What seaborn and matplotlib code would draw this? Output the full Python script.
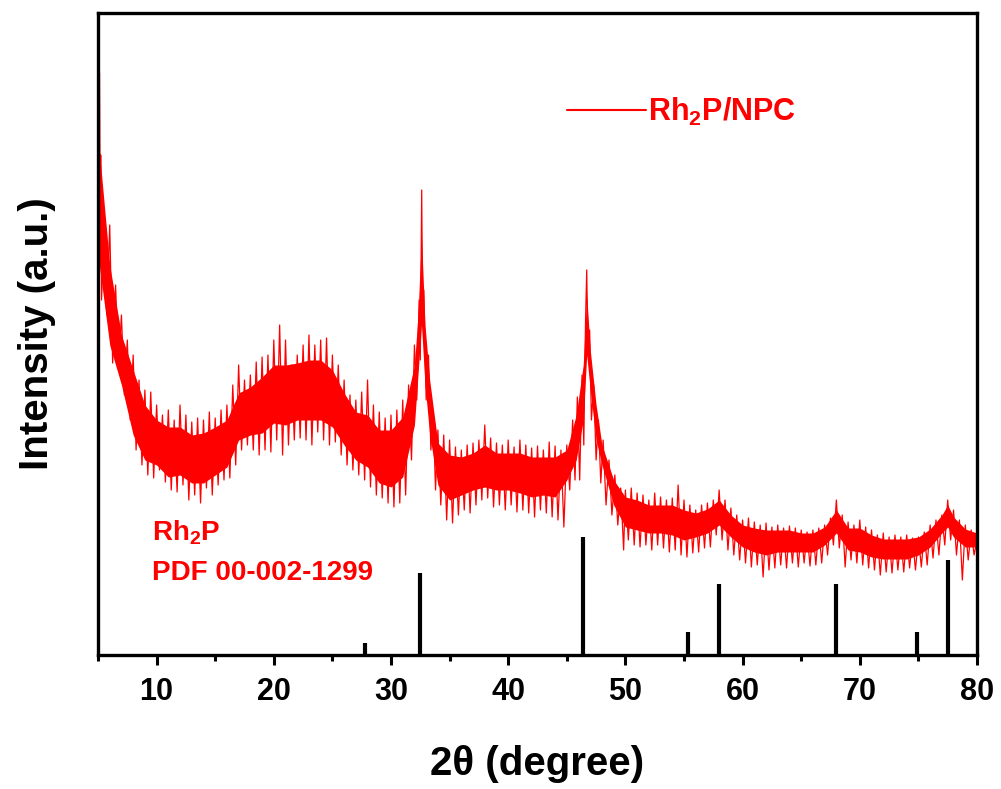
import matplotlib
matplotlib.use("Agg")
import matplotlib.pyplot as plt
import seaborn as sns
import numpy as np
import pandas as pd

# ---- data: XRD trace (2theta in degree, intensity in arbitrary units) ----
# spike tops / bottoms of the noisy trace
two_theta = [
    5.13, 5.19, 5.23, 5.3, 5.5, 5.75, 6.0, 6.25, 6.5, 6.75,
    7.0, 7.25, 7.5, 7.75, 8.0, 8.25, 8.5, 8.75, 9.0, 9.25,
    9.5, 9.75, 10.0, 10.25, 10.5, 10.75, 11.0, 11.25, 11.5, 11.75,
    12.0, 12.25, 12.5, 12.75, 13.0, 13.25, 13.5, 13.75, 14.0, 14.25,
    14.5, 14.75, 15.0, 15.25, 15.5, 15.75, 16.0, 16.25, 16.5, 16.75,
    17.0, 17.25, 17.5, 17.75, 18.0, 18.25, 18.5, 18.75, 19.0, 19.25,
    19.5, 19.75, 20.0, 20.25, 20.5, 20.75, 21.0, 21.25, 21.5, 21.75,
    22.0, 22.25, 22.5, 22.75, 23.0, 23.25, 23.5, 23.75, 24.0, 24.25,
    24.5, 24.75, 25.0, 25.25, 25.5, 25.75, 26.0, 26.25, 26.5, 26.75,
    27.0, 27.25, 27.5, 27.75, 28.0, 28.25, 28.5, 28.75, 29.0, 29.25,
    29.5, 29.75, 30.0, 30.25, 30.5, 30.75, 31.0, 31.25, 31.5, 31.75,
    32.0, 32.2, 32.4, 32.5, 32.62, 32.7, 32.8, 33.0, 33.2, 33.4,
    33.6, 33.8, 34.0, 34.25, 34.5, 34.75, 35.0, 35.25, 35.5, 35.75,
    36.0, 36.25, 36.5, 36.75, 37.0, 37.25, 37.5, 37.75, 38.0, 38.25,
    38.5, 38.75, 39.0, 39.25, 39.5, 39.75, 40.0, 40.25, 40.5, 40.75,
    41.0, 41.25, 41.5, 41.75, 42.0, 42.25, 42.5, 42.75, 43.0, 43.25,
    43.5, 43.75, 44.0, 44.25, 44.5, 44.75, 45.0, 45.25, 45.5, 45.7,
    45.9, 46.1, 46.3, 46.45, 46.6, 46.7, 46.8, 46.95, 47.1, 47.3,
    47.5, 47.7, 47.9, 48.1, 48.35, 48.6, 48.85, 49.1, 49.35, 49.6,
    49.85, 50.0, 50.25, 50.5, 50.75, 51.0, 51.25, 51.5, 51.75, 52.0,
    52.25, 52.5, 52.75, 53.0, 53.25, 53.5, 53.75, 54.0, 54.25, 54.5,
    54.75, 55.0, 55.25, 55.5, 55.75, 56.0, 56.25, 56.5, 56.75, 57.0,
    57.25, 57.5, 57.75, 58.0, 58.25, 58.5, 58.75, 59.0, 59.25, 59.5,
    59.75, 60.0, 60.25, 60.5, 60.75, 61.0, 61.25, 61.5, 61.75, 62.0,
    62.25, 62.5, 62.75, 63.0, 63.25, 63.5, 63.75, 64.0, 64.25, 64.5,
    64.75, 65.0, 65.25, 65.5, 65.75, 66.0, 66.25, 66.5, 66.75, 67.0,
    67.25, 67.5, 67.75, 68.0, 68.25, 68.5, 68.75, 69.0, 69.25, 69.5,
    69.75, 70.0, 70.25, 70.5, 70.75, 71.0, 71.25, 71.5, 71.75, 72.0,
    72.25, 72.5, 72.75, 73.0, 73.25, 73.5, 73.75, 74.0, 74.25, 74.5,
    74.75, 75.0, 75.25, 75.5, 75.75, 76.0, 76.25, 76.5, 76.75, 77.0,
    77.25, 77.5, 77.75, 78.0, 78.25, 78.5, 78.75, 79.0, 79.25, 79.5,
    79.75, 80.0,
]
intensity = [
    582, 430, 500, 355, 415, 340, 430, 292, 370, 285,
    340, 260, 315, 235, 300, 205, 275, 190, 265, 180,
    263, 177, 250, 185, 240, 173, 245, 165, 235, 163,
    250, 170, 240, 155, 233, 160, 237, 152, 235, 167,
    243, 160, 237, 170, 245, 175, 250, 177, 270, 190,
    290, 205, 275, 210, 280, 205, 293, 200, 298, 205,
    300, 203, 315, 215, 330, 200, 315, 210, 290, 215,
    300, 217, 310, 215, 320, 210, 310, 223, 315, 215,
    317, 210, 300, 213, 290, 200, 275, 190, 260, 185,
    255, 180, 263, 175, 275, 168, 250, 160, 243, 157,
    237, 152, 240, 148, 245, 152, 255, 160, 270, 195,
    310, 255, 355, 295, 465, 335, 365, 255, 300, 205,
    240, 165, 225, 150, 220, 135, 215, 132, 208, 140,
    205, 145, 210, 142, 212, 150, 215, 155, 230, 157,
    217, 148, 212, 150, 210, 145, 215, 150, 208, 143,
    215, 145, 210, 142, 207, 138, 209, 145, 205, 142,
    213, 138, 209, 135, 205, 128, 210, 165, 235, 175,
    258, 175, 280, 210, 335, 385, 305, 325, 235, 270,
    195, 235, 172, 215, 150, 195, 140, 180, 130, 167,
    105, 165, 115, 167, 110, 162, 108, 160, 110, 155,
    105, 162, 110, 158, 107, 155, 103, 157, 105, 170,
    100, 155, 98, 150, 102, 145, 103, 150, 107, 152,
    108, 155, 120, 165, 115, 155, 105, 147, 100, 140,
    95, 135, 92, 137, 88, 133, 90, 130, 78, 132,
    85, 128, 87, 130, 90, 127, 87, 129, 92, 127,
    88, 125, 92, 123, 89, 125, 90, 127, 92, 130,
    100, 137, 110, 155, 107, 140, 88, 133, 95, 130,
    92, 135, 90, 128, 87, 125, 85, 120, 80, 122,
    83, 118, 82, 120, 85, 118, 83, 120, 87, 117,
    85, 118, 88, 123, 90, 130, 97, 135, 100, 140,
    110, 155, 115, 145, 100, 135, 75, 130, 95, 125,
    100, 115,
]

# dense core of the noisy band (where the trace is solid red)
core_theta = [
    5.0, 6.0, 7.0, 8.0, 9.0, 10.0, 11.0, 12.0, 13.0, 14.0,
    15.0, 16.0, 17.0, 18.0, 19.0, 20.0, 21.0, 22.0, 23.0, 24.0,
    25.0, 26.0, 27.0, 28.0, 29.0, 30.0, 31.0, 32.0, 32.3, 32.6,
    32.9, 33.3, 34.0, 35.0, 36.0, 37.0, 38.0, 39.0, 40.0, 41.0,
    42.0, 43.0, 44.0, 45.0, 45.8, 46.4, 46.7, 47.0, 47.5, 48.0,
    49.0, 50.0, 51.0, 52.0, 53.0, 54.0, 55.0, 56.0, 57.0, 58.0,
    59.0, 60.0, 61.0, 62.0, 63.0, 64.0, 65.0, 66.0, 67.0, 68.0,
    69.0, 70.0, 71.0, 72.0, 73.0, 74.0, 75.0, 76.0, 77.0, 77.5,
    78.0, 79.0, 80.0,
]
core_low = [
    400, 310, 270, 220, 195, 190, 178, 180, 172, 172,
    180, 188, 215, 220, 222, 232, 230, 235, 235, 235,
    228, 210, 195, 188, 172, 168, 178, 230, 280, 330,
    270, 220, 170, 155, 160, 165, 168, 165, 165, 162,
    158, 160, 158, 175, 195, 235, 300, 265, 215, 190,
    150, 128, 125, 122, 122, 120, 115, 118, 122, 130,
    118, 108, 103, 100, 103, 103, 103, 103, 110, 122,
    105, 103, 98, 96, 96, 96, 100, 108, 122, 128,
    118, 108, 108,
]
core_high = [
    520, 390, 320, 285, 250, 235, 228, 228, 220, 222,
    228, 235, 262, 268, 278, 290, 290, 292, 295, 295,
    285, 262, 243, 240, 225, 225, 238, 290, 340, 420,
    330, 275, 212, 200, 198, 202, 210, 202, 202, 202,
    198, 198, 198, 205, 240, 290, 360, 305, 250, 210,
    175, 158, 155, 150, 150, 150, 145, 142, 146, 155,
    140, 130, 127, 125, 125, 125, 122, 122, 128, 145,
    127, 127, 120, 116, 116, 116, 118, 126, 140, 150,
    138, 126, 122,
]

# ---- reference pattern: Rh2P PDF 00-002-1299 ----
ref_positions = [27.8, 32.5, 46.4, 55.3, 58.0, 68.0, 74.85, 77.5]
ref_heights = [12, 82, 118, 23, 71, 71, 23, 95]

x_ticks = [10, 20, 30, 40, 50, 60, 70, 80]
minor_ticks = [5, 15, 25, 35, 45, 55, 65, 75]

series_label = "Rh$_\\mathbf{2}$P/NPC"
phase_label = "Rh$_\\mathbf{2}$P"
pdf_label = "PDF 00-002-1299"

assert len(two_theta) == len(intensity)
assert len(core_theta) == len(core_low) == len(core_high)

sns.set_theme(style="white")
plt.rcParams["font.family"] = ["Liberation Sans", "DejaVu Sans"]
plt.rcParams["mathtext.fontset"] = "custom"
plt.rcParams["mathtext.rm"] = "Liberation Sans"
plt.rcParams["mathtext.bf"] = "Liberation Sans:bold"
plt.rcParams["text.color"] = "black"
plt.rcParams["axes.labelcolor"] = "black"
plt.rcParams["xtick.color"] = "black"
plt.rcParams["ytick.color"] = "black"

RED = "#FF0000"

fig = plt.figure(figsize=(10.01, 7.89), dpi=100)
ax = fig.add_axes([98 / 1001, 1 - 655 / 789, 879 / 1001, 642 / 789])

ax.fill_between(core_theta, core_low, core_high, color=RED, linewidth=0)

df = pd.DataFrame({"two_theta": two_theta, "intensity": intensity})
sns.lineplot(data=df, x="two_theta", y="intensity", ax=ax, color=RED,
             linewidth=0.9, estimator=None, sort=False, label=series_label)

ax.vlines(ref_positions, 0, ref_heights, colors="black", linewidth=3.0)

ax.set_xlim(5, 80)
ax.set_ylim(0, 642)
ax.set_xticks(x_ticks)
ax.set_xticks(minor_ticks, minor=True)
ax.set_yticks([])
ax.tick_params(axis="x", which="major", direction="out", length=7, width=2.2,
               pad=9, bottom=True, colors="black")
ax.tick_params(axis="x", which="minor", direction="out", length=4, width=2.2,
               bottom=True, colors="black")
for lab in ax.get_xticklabels():
    lab.set_fontweight("bold")
    lab.set_fontsize(22)
    lab.set_color("black")

for sp in ax.spines.values():
    sp.set_linewidth(2.4)
    sp.set_color("black")

ax.set_xlabel("2\u03b8 (degree)", fontweight="bold", fontsize=29,
              labelpad=27, color="black")
ax.set_ylabel("Intensity (a.u.)", fontweight="bold", fontsize=29,
              labelpad=30, color="black")

leg = ax.legend(loc="center left",
                bbox_to_anchor=((567 - 98) / 879, (655 - 112) / 642),
                frameon=False, handlelength=2.6, handletextpad=0.05,
                borderpad=0, borderaxespad=0, labelcolor=RED,
                prop={"weight": "bold", "size": 22})
for h in leg.get_lines():
    h.set_linewidth(1.5)

ax.text(9.6, 115, phase_label, color=RED, fontsize=20, fontweight="bold",
        va="baseline", ha="left")
ax.text(9.6, 75, pdf_label, color=RED, fontsize=20, fontweight="bold",
        va="baseline", ha="left")

fig.savefig("out.png", dpi=100)
